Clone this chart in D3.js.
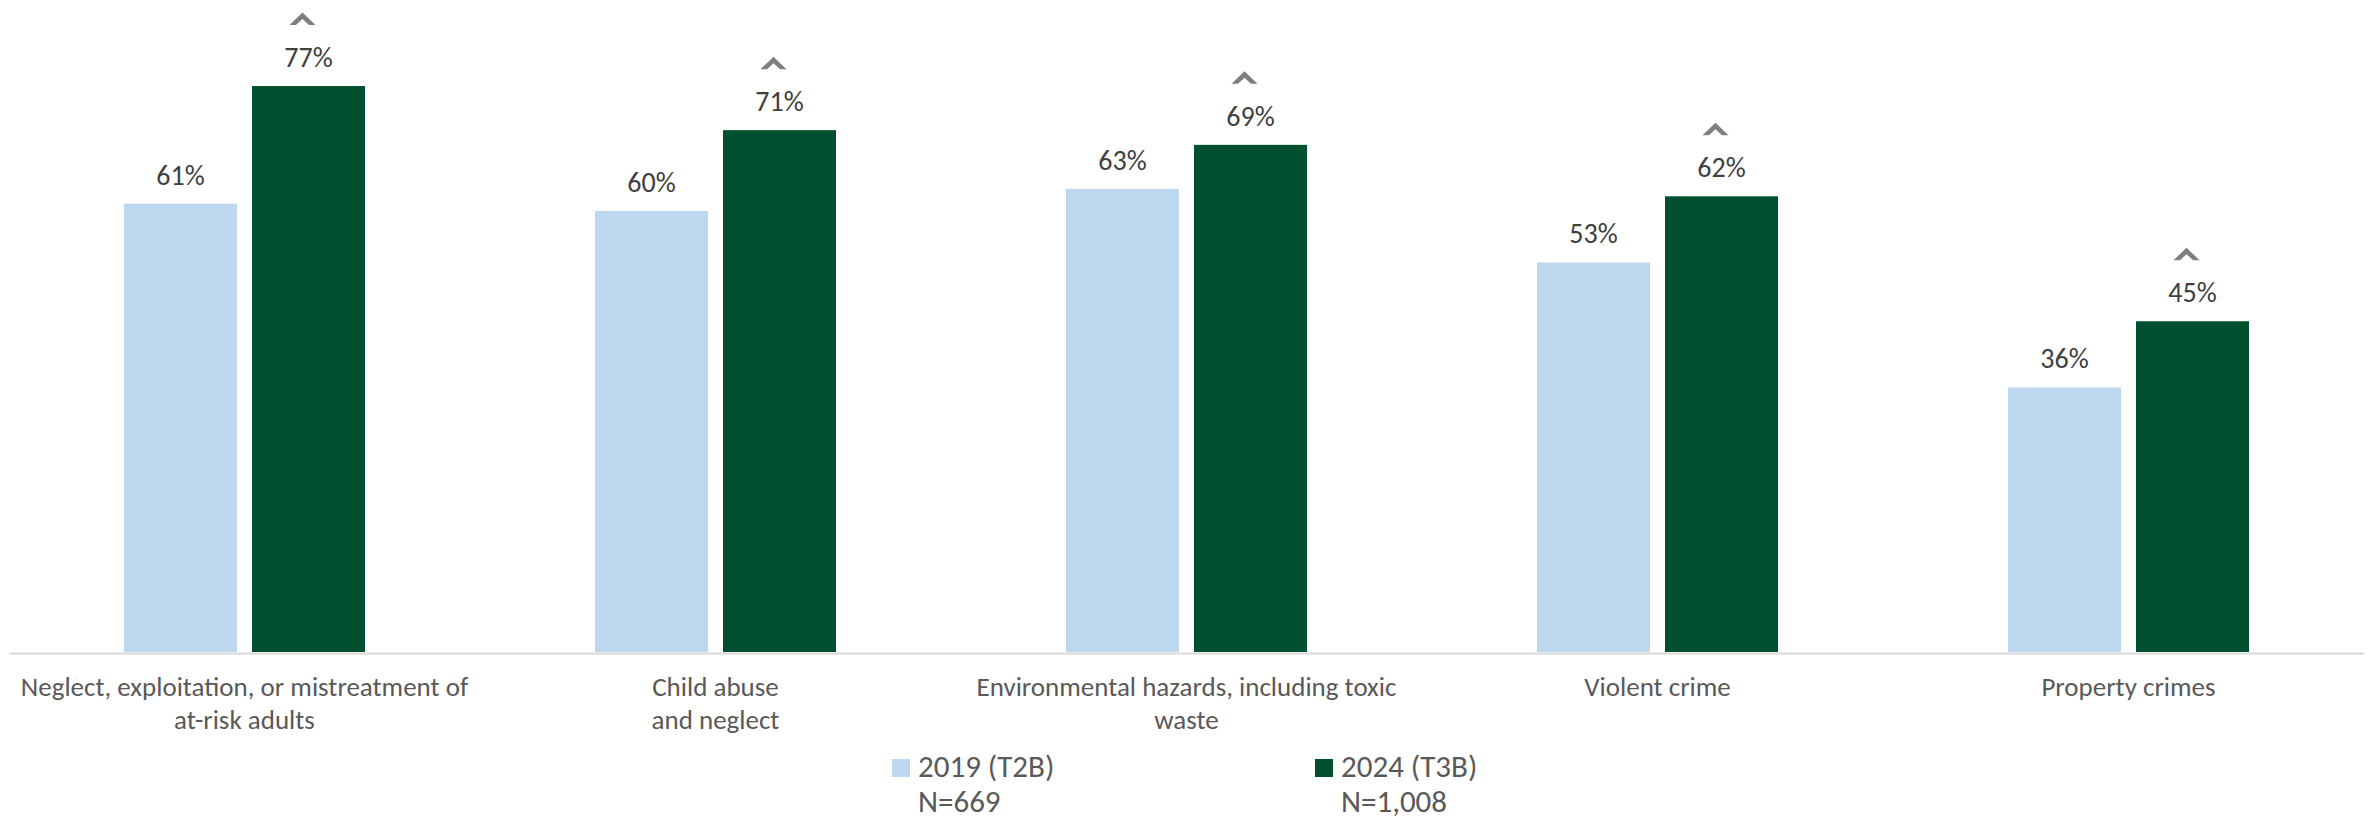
<!DOCTYPE html>
<html>
<head>
<meta charset="utf-8">
<script src="https://cdn.jsdelivr.net/npm/d3@7"></script>
<style>
  html, body { margin: 0; padding: 0; background: #ffffff; }
  svg { display: block; }
  text { font-family: Carlito, Calibri, Lato, "Noto Sans", sans-serif; }
</style>
</head>
<body>
<svg id="chart" width="2377" height="822"></svg>
<script>
// ---- data ----
const categories = [
  "Neglect, exploitation, or mistreatment of\nat-risk adults",
  "Child abuse\nand neglect",
  "Environmental hazards, including toxic\nwaste",
  "Violent crime",
  "Property crimes"
];
const seriesNames = ["2019 (T2B)", "2024 (T3B)"];
const seriesSamples = ["N=669", "N=1,008"];
const values2019 = [0.61, 0.60, 0.63, 0.53, 0.36];
const values2024 = [0.77, 0.71, 0.69, 0.62, 0.45];
const significant2024 = [true, true, true, true, true];
const seriesColors = ["#bdd7ee", "#00502f"];

// ---- layout ----
const svg = d3.select("#chart");
const baseY = 652;
const y = d3.scaleLinear().domain([0, 0.8]).range([baseY, baseY - 0.8 * 735]);
const x0 = d3.scaleBand().domain(categories).range([9, 2364]).padding(0);
const groupW = 241;
const x1 = d3.scaleBand().domain(seriesNames)
  .range([(x0.bandwidth() - groupW) / 2, (x0.bandwidth() + groupW) / 2])
  .paddingInner(0.117).paddingOuter(0);
const fmt = d3.format(".0%");

const rows = categories.map((c, i) => ({
  cat: c,
  vals: [
    { s: seriesNames[0], v: values2019[i], color: seriesColors[0], sig: false },
    { s: seriesNames[1], v: values2024[i], color: seriesColors[1], sig: significant2024[i] }
  ]
}));

// axis line
const xAxis = d3.axisBottom(x0).tickSize(0).tickFormat("");
const axisG = svg.append("g").attr("transform", `translate(0,${baseY + 1})`).call(xAxis);
axisG.select(".domain").attr("stroke", "#d9d9d9").attr("stroke-width", 2);

// category labels
const catLab = svg.append("g");
categories.forEach(c => {
  const lines = c.split("\n");
  const cx = x0(c) + x0.bandwidth() / 2;
  const t = catLab.append("text")
    .attr("x", cx)
    .attr("y", 696)
    .attr("text-anchor", "middle")
    .attr("font-size", 27)
    .attr("fill", "#595959");
  lines.forEach((ln, k) => {
    t.append("tspan").attr("x", cx).attr("dy", k === 0 ? 0 : 33).text(ln);
  });
});

// bars
const groups = svg.append("g").selectAll("g").data(rows).join("g")
  .attr("transform", d => `translate(${x0(d.cat)},0)`);

groups.selectAll("rect").data(d => d.vals).join("rect")
  .attr("x", d => x1(d.s))
  .attr("y", d => y(d.v))
  .attr("width", x1.bandwidth())
  .attr("height", d => baseY - y(d.v))
  .attr("fill", d => d.color);

// value labels
groups.selectAll("text.val").data(d => d.vals).join("text")
  .attr("class", "val")
  .attr("x", d => x1(d.s) + x1.bandwidth() / 2)
  .attr("y", d => y(d.v) - 19)
  .attr("text-anchor", "middle")
  .attr("font-size", 28)
  .attr("fill", "#404040")
  .text(d => fmt(d.v));

// significance carets
groups.selectAll("path.caret").data(d => d.vals.filter(v => v.sig)).join("path")
  .attr("class", "caret")
  .attr("transform", d => `translate(${x1(d.s) + x1.bandwidth() / 2 - 6},${y(d.v) - 61})`)
  .attr("d", "M-13,0 L0,-12.5 L13,0 L6.5,0 L0,-6 L-6.5,0 Z")
  .attr("fill", "#7f7f7f");

// legend
const legendX = [892, 1315];
const legend = svg.append("g");
seriesNames.forEach((s, i) => {
  legend.append("rect")
    .attr("x", legendX[i]).attr("y", 759)
    .attr("width", 18).attr("height", 18)
    .attr("fill", seriesColors[i]);
  const t = legend.append("text")
    .attr("x", legendX[i] + 26).attr("y", 777)
    .attr("font-size", 31).attr("fill", "#595959");
  t.append("tspan").attr("x", legendX[i] + 26).text(s);
  t.append("tspan").attr("x", legendX[i] + 26).attr("dy", 35).text(seriesSamples[i]);
});
</script>
</body>
</html>
